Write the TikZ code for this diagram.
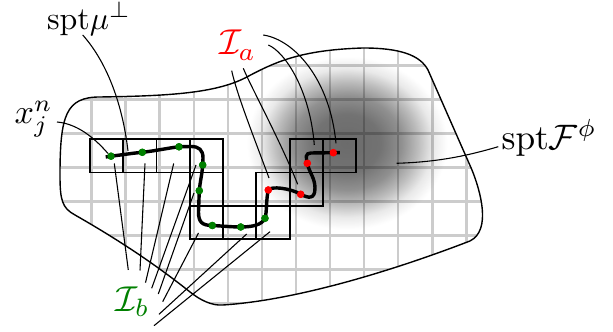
\documentclass[tikz,border=0pt]{standalone}
\usepackage{graphicx}
\usetikzlibrary{fadings}
\definecolor{gridgray}{RGB}{204,204,204}
\definecolor{dotgreen}{RGB}{0,128,0}
\definecolor{dotred}{RGB}{255,0,0}
\pgfdeclareradialshading{blobshade}{\pgfpoint{0bp}{0bp}}{color(0bp)=(white); color(8bp)=(black!5); color(13bp)=(black!25); color(17bp)=(black!55); color(20.5bp)=(black!85); color(24bp)=(black); color(50bp)=(black)}
\pgfdeclarefading{blobfade}{\pgfuseshading{blobshade}}
\begin{document}
\begin{tikzpicture}[x=0.3226pt,y=-0.3226pt,
  gridline/.style={draw=gridgray,line width=0.85pt},
  cell/.style={draw=black,line width=0.55pt},
  curvepath/.style={line width=1.1pt},
  leader/.style={line width=0.35pt},
  outline/.style={line width=0.45pt},
  gdot/.style={circle,fill=dotgreen,inner sep=0pt,minimum size=2.4pt},
  rdot/.style={circle,fill=dotred,inner sep=0pt,minimum size=2.4pt},
  lbl/.style={inner sep=0pt,anchor=base west}]
\useasboundingbox (0,0) rectangle (613,332);

% grid and density, clipped to the region
\begin{scope}
\clip (60,175) .. controls (60,115) and (66,97) .. (100,97) .. controls (170,96) and (215,93) .. (245,78) .. controls (275,62) and (300,50) .. (363,48) .. controls (400,48) and (420,55) .. (428,70) -- (472,170) .. controls (480,190) and (492,230) .. (470,241) .. controls (400,268) and (300,300) .. (223,305) .. controls (212,306) and (200,300) .. (190,292) .. controls (150,260) and (110,235) .. (75,215) .. controls (62,208) and (60,200) .. (60,175) -- cycle;
\foreach \i in {-1,...,12} \draw[gridline] ({91.7+34.05*\i},20) -- ({91.7+34.05*\i},320);
\foreach \j in {-2,...,7} \draw[gridline] (50,{99.5+34*\j}) -- (500,{99.5+34*\j});
\fill[black,opacity=0.58,path fading=blobfade] (347,143) ellipse [x radius=104,y radius=90];
\end{scope}

% outline
\draw[outline] (60,175) .. controls (60,115) and (66,97) .. (100,97) .. controls (170,96) and (215,93) .. (245,78) .. controls (275,62) and (300,50) .. (363,48) .. controls (400,48) and (420,55) .. (428,70) -- (472,170) .. controls (480,190) and (492,230) .. (470,241) .. controls (400,268) and (300,300) .. (223,305) .. controls (212,306) and (200,300) .. (190,292) .. controls (150,260) and (110,235) .. (75,215) .. controls (62,208) and (60,200) .. (60,175) -- cycle;

% cells
\foreach \c/\r in {0/0,1/0,2/0,3/0,3/1,3/2,4/2,5/2,5/1,6/1,6/0,7/0}
  \draw[cell] ({89.7+33.33*\c},{139.2+33.33*\r}) rectangle +(33.33,33.33);

% curve
\coordinate (cstart) at (105.7,157);
\coordinate (cend) at (340,152.7);
\node[gdot] (g1) at (111,156.2) {};
\node[gdot] (g2) at (142.3,152.3) {};
\node[gdot] (g3) at (179,146.8) {};
\node[gdot] (g4) at (202.7,165) {};
\node[gdot] (g5) at (199.3,190.7) {};
\node[gdot] (g6) at (212.3,225.5) {};
\node[gdot] (g7) at (240.7,227) {};
\node[gdot] (g8) at (265,218.3) {};
\node[rdot] (r1) at (268.3,190) {};
\node[rdot] (r2) at (300.7,194.3) {};
\node[rdot] (r3) at (307.3,163.3) {};
\node[rdot] (r4) at (333.3,152.7) {};
\draw[curvepath] (cstart) -- (g1.center)
  .. controls (125,154.5) and (130,153.5) .. (g2.center)
  .. controls (155,151) and (168,148) .. (g3.center)
  -- (191,146.5) .. controls (199,146.5) and (203,150) .. (203,158)
  -- (g4.center) .. controls (202,175) and (200,182) .. (g5.center)
  -- (198.5,212) .. controls (198.5,222) and (202,225.5) .. (g6.center)
  .. controls (222,226) and (232,227) .. (g7.center)
  .. controls (252,227) and (262,225) .. (g8.center)
  .. controls (267,212) and (266,200) .. (r1.center)
  .. controls (271,186) and (290,188) .. (r2.center)
  .. controls (308,198) and (315,200) .. (315,188)
  .. controls (315,178) and (309,172) .. (r3.center)
  .. controls (306,158) and (305,153) .. (311,153)
  -- (r4.center) -- (cend);
\foreach \n in {g1,g2,g3,g4,g5,g6,g7,g8} \node[gdot] at (\n) {};
\foreach \n in {r1,r2,r3,r4} \node[rdot] at (\n) {};

% labels
\node[lbl] (mulbl) at (46.5,29.5) {\scalebox{1.03}{$\mathrm{spt}\mu^{\perp}$}};
\node[lbl] (xlbl) at (14,124) {\scalebox{1.1}{$x_j^n$}};
\node[lbl,text=dotred] (ialbl) at (218.5,55) {\scalebox{1.16}{$\mathcal{I}_a$}};
\node[lbl] (flbl) at (501,149.5) {\scalebox{1.14}{$\mathrm{spt}\mathcal{F}^{\phi}$}};
\node[lbl,text=dotgreen] (iblbl) at (115,311.5) {\scalebox{1.16}{$\mathcal{I}_b$}};

% leaders: spt mu, x_j^n, spt F
\coordinate (mus) at (82.7,35);   \coordinate (mue) at (128,151);
\coordinate (xs) at (57,122);     \coordinate (xe) at (108,153.5);
\coordinate (fs) at (498.3,146.7); \coordinate (fe) at (396.7,163.3);
\draw[leader] (mus) .. controls (105,60) and (122,100) .. (mue);
\draw[leader] (xs) .. controls (80,124) and (98,142) .. (xe);
\draw[leader] (fs) .. controls (470,155) and (440,162) .. (fe);

% leaders: I_a
\coordinate (a1s) at (231.7,70.7); \coordinate (a1e) at (269,178);
\coordinate (a2s) at (243.3,68.3); \coordinate (a2e) at (297.7,184.3);
\coordinate (a3s) at (268.3,45);   \coordinate (a3e) at (314.3,145);
\coordinate (a4s) at (263.3,35);   \coordinate (a4e) at (336,143.3);
\draw[leader] (a1s) .. controls (237,95) and (255,140) .. (a1e);
\draw[leader] (a2s) .. controls (250,85) and (280,140) .. (a2e);
\draw[leader] (a3s) .. controls (285,52) and (310,90) .. (a3e);
\draw[leader] (a4s) .. controls (295,40) and (330,80) .. (a4e);

% leaders: I_b
\foreach \k/\sx/\sy/\ex/\ey in {1/128.3/270/114.3/163.5, 2/140/270.5/145/163.5, 3/145.5/282.7/173.7/163.5, 4/151.7/288.3/196/165, 5/158.3/294/194/193, 6/162.7/301.7/198.5/233, 7/159/314.3/246.7/234, 8/154/325.7/270/231.7}{
  \coordinate (b\k s) at (\sx,\sy);
  \coordinate (b\k e) at (\ex,\ey);
  \draw[leader] (b\k s) -- (b\k e);
}
\end{tikzpicture}
\end{document}
